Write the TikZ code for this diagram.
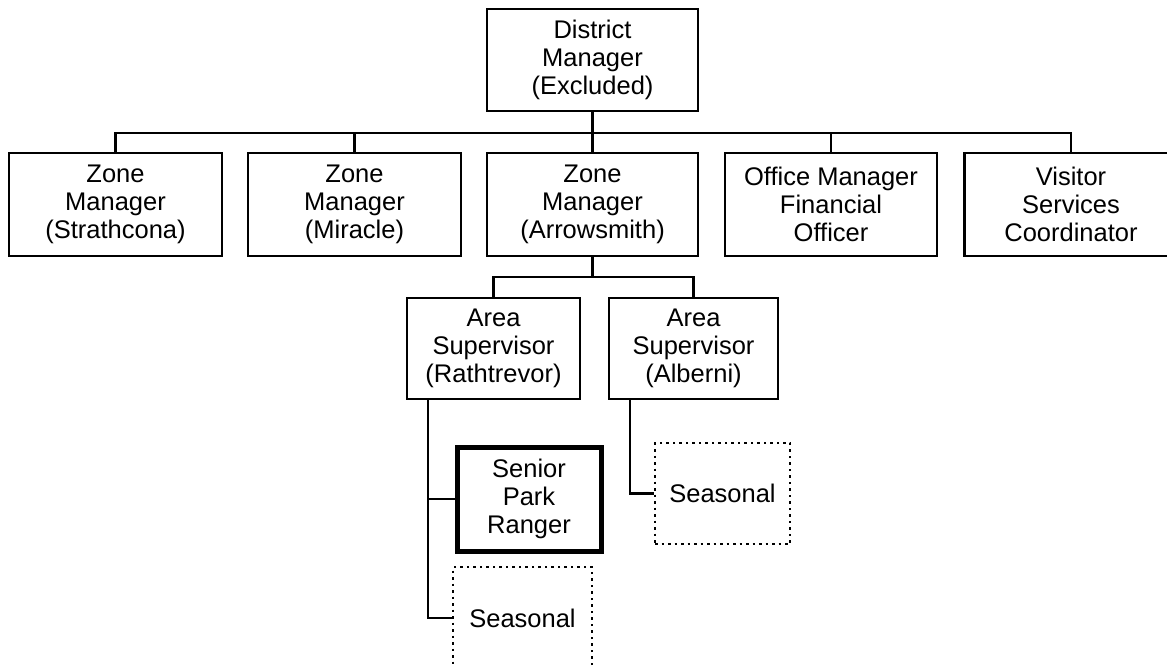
\documentclass[tikz,border=0pt]{standalone}
\usepackage{fontspec}
\setmainfont{Liberation Sans}
\usepackage{tikz}
\usetikzlibrary{positioning}

\begin{document}
\begin{tikzpicture}[x=1pt,y=-1pt,line width=2.2pt,
		every node/.style={font=\fontsize{25.5}{28}\selectfont,align=center,inner sep=0pt},
		post/.style={draw,rectangle,minimum height=102pt},
		chief/.style={post,line width=5pt,minimum height=104pt},
		seasonal/.style={draw,rectangle,line width=2.6pt,dash pattern=on 2.5pt off 4pt,minimum height=101pt}]
		
		\clip (0,0) rectangle (1167,666);
		
		\node[post,minimum width=211pt] (district) at (592.5,60) {District\\Manager\\(Excluded)};
		
		\node[post,minimum width=213pt,minimum height=103pt] (strathcona) at (115.5,204.5) {Zone\\Manager\\(Strathcona)};
		\node[post,minimum width=213pt,minimum height=103pt] (miracle) at (354.5,204.5) {Zone\\Manager\\(Miracle)};
		\node[post,minimum width=211pt,minimum height=103pt] (arrowsmith) at (592.5,204.5) {Zone\\Manager\\(Arrowsmith)};
		\node[post,minimum width=212pt,minimum height=103pt] (office) at (831,204.5) {Office Manager\\Financial\\Officer};
		\node[post,minimum width=213pt,minimum height=103pt] (visitor) at (1071,204.5) {Visitor\\Services\\Coordinator};
		
		\node[post,minimum width=173pt,minimum height=101pt] (rathtrevor) at (493.5,348.5) {Area\\Supervisor\\(Rathtrevor)};
		\node[post,minimum width=169pt,minimum height=101pt] (alberni) at (693.5,348.5) {Area\\Supervisor\\(Alberni)};
		
		\node[chief,minimum width=144pt] (ranger) at (529,499) {Senior\\Park\\Ranger};
		\node[seasonal,minimum width=139pt,minimum height=102pt] (seasonal-R) at (522.5,618) {Seasonal};
		\node[seasonal,minimum width=135pt] (seasonal-A) at (722.5,493.5) {Seasonal};
		
		\coordinate (bus-top) at (592.5,133);
		\coordinate (bus-area) at (592.5,277);
		\coordinate (drop-R) at ([xshift=22pt]rathtrevor.south west);
		\coordinate (drop-A) at ([xshift=22pt]alberni.south west);
		
		\draw (district) -- (arrowsmith);
		\draw (strathcona.north) |- (bus-top) -| (visitor.north);
		\draw (miracle.north) |- (bus-top);
		\draw (office.north) |- (bus-top);
		
		\draw (arrowsmith) -- (bus-area);
		\draw (rathtrevor.north) |- (bus-area) -| (alberni.north);
		
		\draw (drop-R) |- (seasonal-R.west);
		\draw (ranger.west) -| (drop-R);
		\draw (drop-A) |- (seasonal-A.west);
\end{tikzpicture}
\end{document}
